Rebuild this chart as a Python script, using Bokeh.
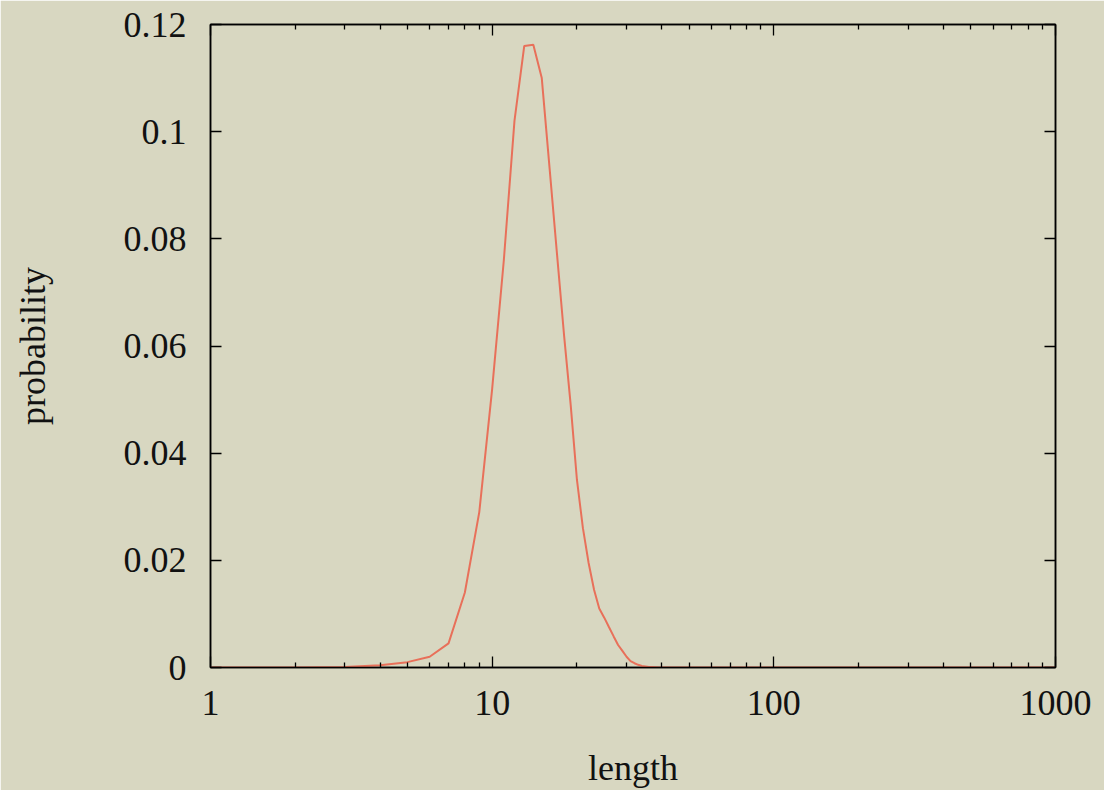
from bokeh.plotting import figure
from bokeh.models import (Range1d, FixedTicker, CustomJSTickFormatter, LogAxis, LinearAxis)
from bokeh.embed import file_html
from bokeh.resources import INLINE

# ---- data ----
lengths = [1, 2, 3, 4, 5, 6, 7, 8, 9, 10, 11, 12, 13, 14, 15, 16, 17, 18, 19, 20,
           21, 22, 23, 24, 25, 26, 27, 28, 29, 30, 31, 32, 33, 34, 35, 36, 37, 38,
           39, 40, 50, 100, 1000]
probability = [0.0, 0.0, 0.0001, 0.0004, 0.0010, 0.0020, 0.0045, 0.0140, 0.0290,
               0.0520, 0.0760, 0.1020, 0.1160, 0.1162, 0.1100, 0.0930, 0.0770,
               0.0620, 0.0490, 0.0350, 0.0260, 0.0195, 0.0145, 0.0110, 0.0093,
               0.0075, 0.0058, 0.0042, 0.0031, 0.0020, 0.0012, 0.0008, 0.0005,
               0.0003, 0.0002, 0.0001, 0.0001, 0.00005, 0.0, 0.0, 0.0, 0.0, 0.0]

x_major = [1, 10, 100, 1000]
x_minor = [2, 3, 4, 5, 6, 7, 8, 9, 20, 30, 40, 50, 60, 70, 80, 90,
           200, 300, 400, 500, 600, 700, 800, 900]
y_major = [0, 0.02, 0.04, 0.06, 0.08, 0.1, 0.12]

BG = "#d8d7c1"
FONT = "Liberation Serif"
FS = "36px"

p = figure(width=1104, height=790, x_axis_type="log",
           x_range=Range1d(1, 1000), y_range=Range1d(0, 0.12),
           output_backend="svg", toolbar_location=None,
           min_border_left=210, min_border_right=49,
           min_border_top=24, min_border_bottom=123,
           background_fill_color=BG, border_fill_color=BG)

p.grid.visible = False
p.outline_line_color = "black"
p.outline_line_width = 1.5

p.line(lengths, probability, line_color="#e8705a", line_width=2)

xfmt = CustomJSTickFormatter(code="return String(Math.round(tick));")
yfmt = CustomJSTickFormatter(code="return String(Math.round(tick*100)/100);")

def style(ax, labels=True):
    ax.axis_line_color = "black"
    ax.axis_line_width = 1.5
    ax.major_tick_in = 11
    ax.major_tick_out = 0
    ax.minor_tick_in = 5
    ax.minor_tick_out = 0
    ax.major_tick_line_color = "black"
    ax.minor_tick_line_color = "black"
    ax.major_tick_line_width = 1.3
    ax.minor_tick_line_width = 1.3
    ax.major_label_text_font = FONT
    ax.major_label_text_font_size = FS
    ax.major_label_text_color = "#111111"
    ax.axis_label_text_font = FONT
    ax.axis_label_text_font_size = FS
    ax.axis_label_text_font_style = "normal"
    ax.axis_label_text_color = "#111111"
    if not labels:
        ax.major_label_text_font_size = "0px"
        ax.major_label_text_color = None

# bottom
xa = p.xaxis[0]
xa.ticker = FixedTicker(ticks=x_major, minor_ticks=x_minor)
xa.formatter = xfmt
xa.axis_label = "length"
style(xa)
xa.major_label_standoff = 23
xa.axis_label_standoff = 30

# left
ya = p.yaxis[0]
ya.ticker = FixedTicker(ticks=y_major)
ya.formatter = yfmt
ya.axis_label = "probability"
style(ya)
ya.minor_tick_line_color = None
ya.major_label_standoff = 24
ya.axis_label_standoff = 68

# top (mirror)
ta = LogAxis(ticker=FixedTicker(ticks=x_major, minor_ticks=x_minor), formatter=xfmt)
style(ta, labels=False)
p.add_layout(ta, "above")

# right (mirror)
ra = LinearAxis(ticker=FixedTicker(ticks=y_major), formatter=yfmt)
style(ra, labels=False)
ra.minor_tick_line_color = None
p.add_layout(ra, "right")

open("out.html", "w").write(file_html(p, INLINE))
